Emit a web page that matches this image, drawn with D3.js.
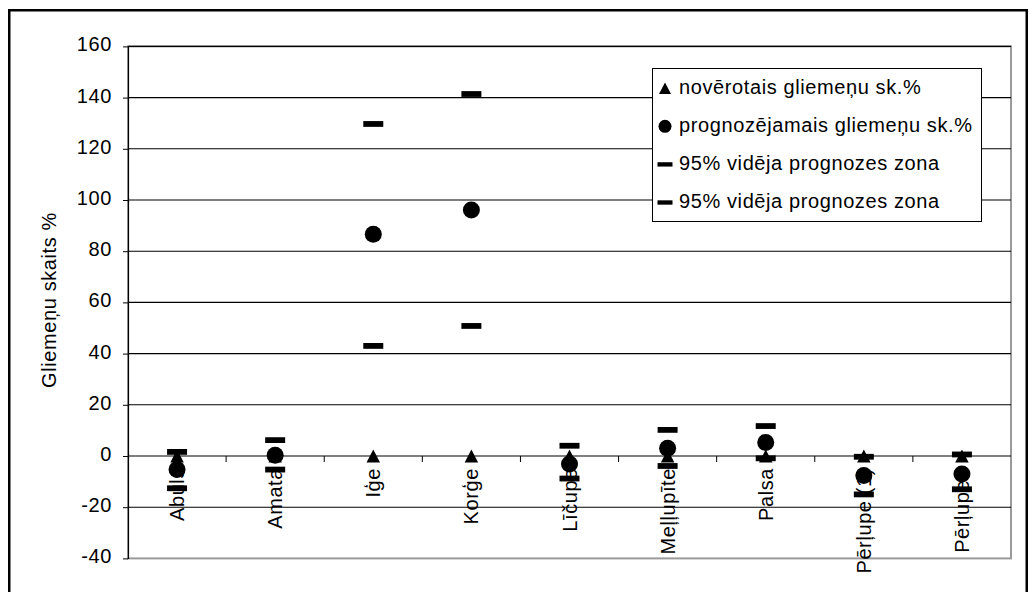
<!DOCTYPE html>
<html>
<head>
<meta charset="utf-8">
<script src="https://cdn.jsdelivr.net/npm/d3@7"></script>
<style>
  html, body { margin: 0; padding: 0; background: #fff; }
  svg { display: block; }
  text { font-family: "Liberation Sans", Arial, sans-serif; fill: #000; letter-spacing: 0.6px; }
</style>
</head>
<body>
<svg id="chart" width="1036" height="592"></svg>
<script>
// Sampling sites along the category axis
const categories = ["Abuls", "Amata", "Iģe", "Korģe", "Līčupe", "Meļļupīte", "Palsa", "Pērļupe (1)", "Pērļupe3"];

// Observed share of mussels, %
const observed = [0, 0, 0, 0, 0, 0, 0, 0, 0];
// Predicted share of mussels, %
const predicted = [-5.3, 0.3, 86.6, 96.1, -3.1, 3.0, 5.3, -7.6, -7.0];
// 95% mean prediction interval, lower and upper limits
const lowerLimit = [-12.6, -5.3, 43.0, 50.8, -8.8, -3.9, -0.9, -15.0, -13.0];
const upperLimit = [1.6, 6.2, 129.7, 141.4, 4.0, 10.2, 11.7, -0.3, 0.6];

// Value axis ticks
const yTickValues = [-40, -20, 0, 20, 40, 60, 80, 100, 120, 140, 160];

// Legend entries
const legendLabels = [
  "novērotais gliemeņu sk.%",
  "prognozējamais gliemeņu sk.%",
  "95% vidēja prognozes zona",
  "95% vidēja prognozes zona"
];
const yAxisTitle = "Gliemeņu skaits %";

const svg = d3.select("#chart");

const plot = { left: 128, right: 1011, top: 46.4, bottom: 558.4 };

const x = d3.scaleBand().domain(categories).range([plot.left, plot.right]).padding(0);
const y = d3.scaleLinear().domain([-40, 160]).range([plot.bottom, plot.top]);

// Marker shapes
const triangleType = {
  draw(ctx, size) {
    const w = Math.sqrt(size), h = w * 0.96;
    ctx.moveTo(0, -h / 2);
    ctx.lineTo(w / 2, h / 2);
    ctx.lineTo(-w / 2, h / 2);
    ctx.closePath();
  }
};
const dashType = {
  draw(ctx, size) {
    const w = Math.sqrt(size) * 1.8, h = w * 0.29;
    ctx.rect(-w / 2, -h / 2, w, h);
  }
};
const triangle = d3.symbol().type(triangleType).size(13.5 * 13.5);
const circle = d3.symbol().type(d3.symbolCircle).size(Math.PI * 8.5 * 8.5);
const dash = d3.symbol().type(dashType).size((20 / 1.8) * (20 / 1.8));

const triangleLegend = d3.symbol().type(triangleType).size(12 * 12);
const circleLegend = d3.symbol().type(d3.symbolCircle).size(Math.PI * 6.5 * 6.5);
const dashLegend = d3.symbol().type(dashType).size((15 / 1.8) * (15 / 1.8));

// Outer chart frame
svg.append("rect")
  .attr("x", 9.25).attr("y", 10.25)
  .attr("width", 1017.5).attr("height", 640)
  .attr("fill", "none").attr("stroke", "#000").attr("stroke-width", 2.5);

// Plot area border (grey)
svg.append("rect")
  .attr("x", plot.left).attr("y", plot.top)
  .attr("width", plot.right - plot.left).attr("height", plot.bottom - plot.top)
  .attr("fill", "#fff").attr("stroke", "#9a9a9a").attr("stroke-width", 2);

// Horizontal gridlines
svg.append("g")
  .selectAll("line")
  .data(yTickValues.filter(v => v > -40))
  .join("line")
  .attr("x1", plot.left).attr("x2", plot.right)
  .attr("y1", d => y(d)).attr("y2", d => y(d))
  .attr("stroke", "#000").attr("stroke-width", 1.1);

// Value axis
const yAxis = svg.append("g")
  .attr("transform", `translate(${plot.left},0)`)
  .call(d3.axisLeft(y)
    .tickValues(yTickValues)
    .tickFormat(d => String(d))
    .tickSize(5).tickPadding(11).tickSizeOuter(0));
yAxis.select(".domain").attr("stroke", "#000").attr("stroke-width", 1.2);
yAxis.selectAll(".tick line").attr("stroke", "#000");
yAxis.selectAll(".tick text")
  .attr("dy", "0.22em")
  .style("font-size", "20px")
  .style("font-family", "'Liberation Sans', Arial, sans-serif");

// Category axis at zero
const xAxis = svg.append("g")
  .attr("transform", `translate(0,${y(0)})`)
  .call(d3.axisBottom(x).tickSize(0).tickSizeOuter(0));
xAxis.select(".domain").remove();
xAxis.selectAll(".tick text")
  .attr("x", 0).attr("y", 0).attr("dy", 0)
  .attr("text-anchor", "end")
  .attr("transform", "translate(7,12) rotate(-90)")
  .style("font-size", "20px")
  .style("font-family", "'Liberation Sans', Arial, sans-serif");

// Category separators below the axis
svg.append("g")
  .selectAll("line")
  .data(categories.slice(1))
  .join("line")
  .attr("x1", d => x(d)).attr("x2", d => x(d))
  .attr("y1", y(0)).attr("y2", y(0) + 6)
  .attr("stroke", "#000").attr("stroke-width", 1);

// Series
const cx = d => x(d) + x.bandwidth() / 2;
const marks = svg.append("g");

marks.selectAll(".obs")
  .data(categories)
  .join("path")
  .attr("class", "obs")
  .attr("d", triangle)
  .attr("transform", (d, i) => `translate(${cx(d)},${y(observed[i])})`)
  .attr("fill", "#000");

marks.selectAll(".pred")
  .data(categories)
  .join("path")
  .attr("class", "pred")
  .attr("d", circle)
  .attr("transform", (d, i) => `translate(${cx(d)},${y(predicted[i])})`)
  .attr("fill", "#000");

marks.selectAll(".lo")
  .data(categories)
  .join("path")
  .attr("class", "lo")
  .attr("d", dash)
  .attr("transform", (d, i) => `translate(${cx(d)},${y(lowerLimit[i])})`)
  .attr("fill", "#000");

marks.selectAll(".hi")
  .data(categories)
  .join("path")
  .attr("class", "hi")
  .attr("d", dash)
  .attr("transform", (d, i) => `translate(${cx(d)},${y(upperLimit[i])})`)
  .attr("fill", "#000");

// Value axis title
svg.append("text")
  .attr("transform", "translate(56,300) rotate(-90)")
  .attr("text-anchor", "middle")
  .style("font-size", "20px")
  .text(yAxisTitle);

// Legend
const legend = svg.append("g");
legend.append("rect")
  .attr("x", 652.5).attr("y", 68.5)
  .attr("width", 329).attr("height", 153)
  .attr("fill", "#fff").attr("stroke", "#000").attr("stroke-width", 1);

const legendSymbols = [triangleLegend, circleLegend, dashLegend, dashLegend];
const rows = legend.selectAll(".row")
  .data(legendLabels)
  .join("g")
  .attr("class", "row")
  .attr("transform", (d, i) => `translate(0,${93.7 + i * 38.1})`);
rows.append("path")
  .attr("d", (d, i) => legendSymbols[i]())
  .attr("transform", "translate(665,-5.5)")
  .attr("fill", "#000");
rows.append("text")
  .attr("x", 679).attr("y", 0)
  .style("font-size", "20px")
  .text(d => d);
</script>
</body>
</html>
